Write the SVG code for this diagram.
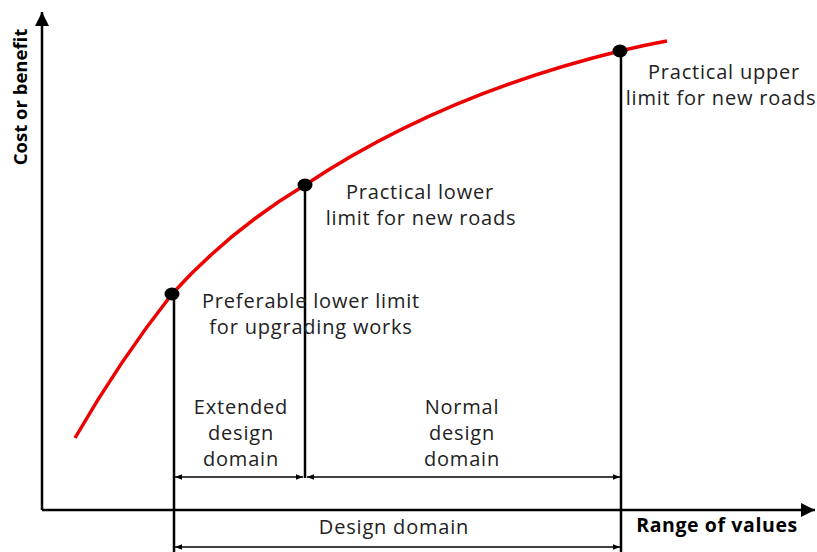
<svg xmlns="http://www.w3.org/2000/svg" width="817" height="552" viewBox="0 0 817 552">
<style>
.t{font-family:"Open Sans","Noto Sans",sans-serif;font-size:20px;letter-spacing:0.8px;fill:#222;text-anchor:middle}
.b{font-family:"Open Sans","Noto Sans",sans-serif;font-weight:bold;fill:#000;text-anchor:middle}
.ln{stroke:#000;stroke-width:2.5;fill:none}
.dim{stroke:#000;stroke-width:1.3;fill:none}
</style>
<defs>
<marker id="ah" viewBox="0 0 10 10" refX="10" refY="5" markerWidth="7" markerHeight="7" orient="auto-start-reverse" markerUnits="userSpaceOnUse"><path d="M0,1 L10,5 L0,9 z" fill="#000"/></marker>
<marker id="axh" viewBox="0 0 10 10" refX="10" refY="5" markerWidth="14" markerHeight="14" orient="auto" markerUnits="userSpaceOnUse"><path d="M0,0 L10,5 L0,10 z" fill="#000"/></marker>
</defs>
<rect width="817" height="552" fill="#fff"/>
<g id="axes">
<line class="ln" x1="42" y1="510" x2="42" y2="12" marker-end="url(#axh)"/>
<line class="ln" x1="42" y1="510" x2="815" y2="510" marker-end="url(#axh)"/>
<text class="b" font-size="18.5" transform="translate(27,97) rotate(-90)">Cost or benefit</text>
<text class="b" font-size="19.5" letter-spacing="0.6" x="717" y="532">Range of values</text>
</g>
<g id="curve">
<path d="M75,438 Q120,360 172,294 Q230,230 305,185 Q440,95 620,51 Q645,45 667,41" stroke="#e00" stroke-width="3.5" fill="none"/>
</g>
<g id="connectors">
<line class="ln" x1="174" y1="294" x2="174" y2="552"/>
<line class="ln" x1="305" y1="185" x2="305" y2="478"/>
<line class="ln" x1="621" y1="51" x2="621" y2="552"/>
<line class="dim" x1="175" y1="477" x2="303" y2="477" marker-start="url(#ah)" marker-end="url(#ah)"/>
<line class="dim" x1="307" y1="477" x2="620" y2="477" marker-start="url(#ah)" marker-end="url(#ah)"/>
<line class="dim" x1="175" y1="547" x2="620" y2="547" marker-start="url(#ah)" marker-end="url(#ah)"/>
</g>
<g id="p1">
<ellipse cx="172" cy="294" rx="7.5" ry="6.5" fill="#000"/>
<text class="t" x="311" y="308">Preferable lower limit</text>
<text class="t" x="311" y="334">for upgrading works</text>
</g>
<g id="p2">
<ellipse cx="305" cy="185" rx="7.5" ry="6.5" fill="#000"/>
<text class="t" x="420" y="199">Practical lower</text>
<text class="t" x="421" y="225">limit for new roads</text>
</g>
<g id="p3">
<ellipse cx="620" cy="51" rx="7.5" ry="6.5" fill="#000"/>
<text class="t" x="724" y="79">Practical upper</text>
<text class="t" x="721" y="105" letter-spacing="0.4">limit for new roads</text>
</g>
<g id="extended">
<text class="t" x="241" y="414">Extended</text>
<text class="t" x="241" y="440">design</text>
<text class="t" x="241" y="466">domain</text>
</g>
<g id="normal">
<text class="t" x="462" y="414">Normal</text>
<text class="t" x="462" y="440">design</text>
<text class="t" x="462" y="466">domain</text>
</g>
<g id="design">
<text class="t" x="394" y="534">Design domain</text>
</g>
</svg>
